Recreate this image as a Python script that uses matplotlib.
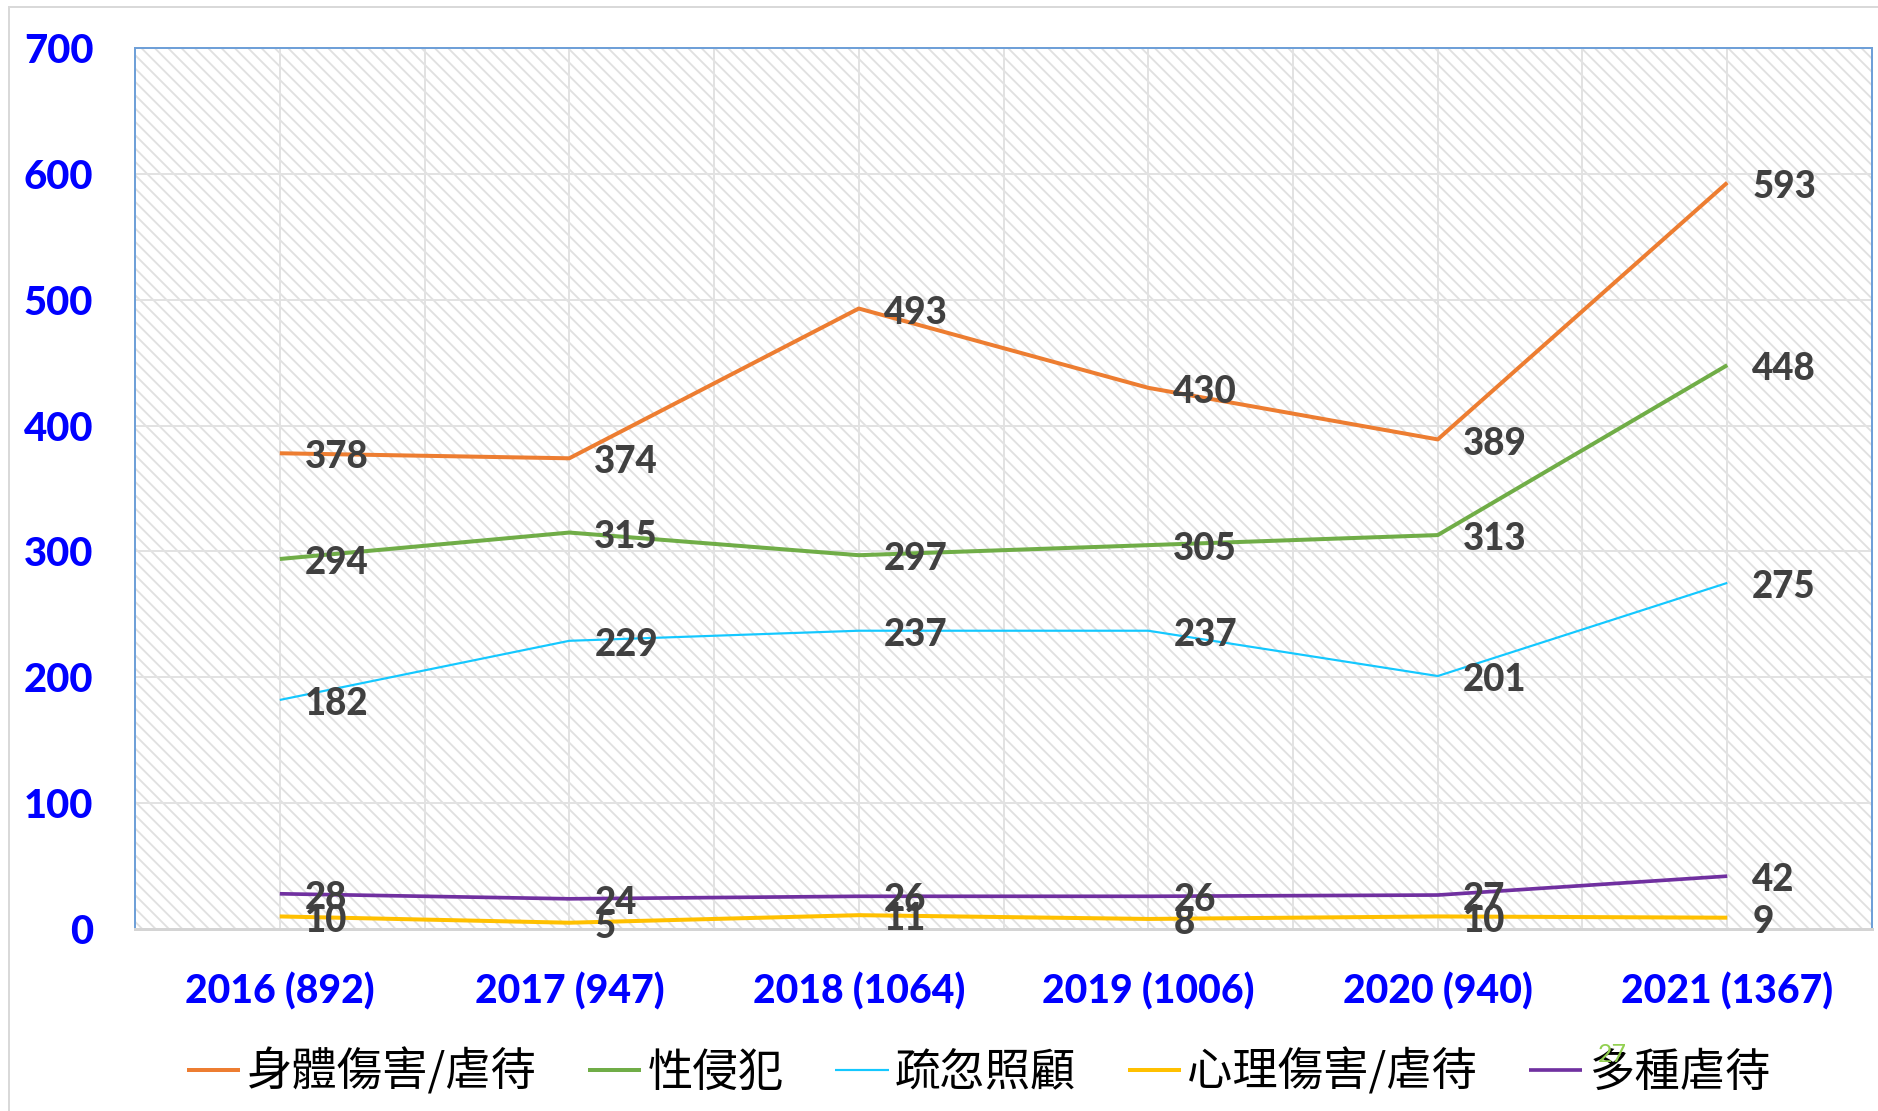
import matplotlib
matplotlib.use("Agg")
import matplotlib.pyplot as plt
from matplotlib.patches import Rectangle
import numpy as np

# categories along the x axis (year and total cases)
years = ["2016 (892)", "2017 (947)", "2018 (1064)", "2019 (1006)", "2020 (940)", "2021 (1367)"]

# one list per type of abuse
series_names = ["身體傷害/虐待", "性侵犯", "疏忽照顧", "心理傷害/虐待", "多種虐待"]
physical = [378, 374, 493, 430, 389, 593]
sexual = [294, 315, 297, 305, 313, 448]
neglect = [182, 229, 237, 237, 201, 275]
psychological = [10, 5, 11, 8, 10, 9]
multiple = [28, 24, 26, 26, 27, 42]

colors = ["#ED7D31", "#70AD47", "#14C8FF", "#FFC000", "#7030A0"]
widths = [2.4, 2.4, 1.3, 2.4, 2.2]

cjk = ["Noto Sans CJK TC", "DejaVu Sans"]

DPI = 120
fig = plt.figure(figsize=(1878 / DPI, 1111 / DPI), dpi=DPI)
ax = fig.add_axes([0.0719, 0.1638, 0.9968 - 0.0719, 0.9568 - 0.1638])

# light gray frame round the whole chart
fig.patches.append(Rectangle((9 / 1878, -0.02), 1.05, 1 - 7 / 1111 + 0.02,
                             transform=fig.transFigure, fill=False,
                             edgecolor="#d9d9d9", linewidth=1.2, zorder=0))

# diagonal stripe fill of the plot area
plt.rcParams["hatch.linewidth"] = 1.1
ax.add_patch(Rectangle((0, 0), 1, 1, transform=ax.transAxes, facecolor="white",
                       edgecolor="#e0e0e0", hatch="\\\\\\", linewidth=0, zorder=0))

x = np.arange(len(years))
all_series = [physical, sexual, neglect, psychological, multiple]
for name, vals, c, lw in zip(series_names, all_series, colors, widths):
    ax.plot(x, vals, color=c, linewidth=lw, label=name, zorder=3,
            solid_capstyle="butt")
    for xi, v in zip(x, vals):
        ax.annotate(str(v), (xi, v), xytext=(15, -2.5), textcoords="offset points",
                    ha="left", va="center", fontsize=22, fontweight=900,
                    family="Lato", color="#404040", zorder=4)

ax.set_xlim(-0.5, len(years) - 0.5)
ax.set_ylim(0, 700)
ax.set_yticks(np.arange(0, 701, 100))
ax.set_xticks(x)
ax.set_xticks(x[:-1] + 0.5, minor=True)
ax.set_xticklabels(years)

for lab in ax.get_xticklabels() + ax.get_yticklabels():
    lab.set_family("Lato")
    lab.set_fontweight(900)
    lab.set_color("#0000FF")
for lab in ax.get_xticklabels():
    lab.set_fontsize(23.5)
for lab in ax.get_yticklabels():
    lab.set_fontsize(24)

ax.tick_params(axis="both", which="both", length=0)
ax.tick_params(axis="y", pad=25)
ax.tick_params(axis="x", pad=26)

ax.grid(True, which="both", color="#e2e2e2", linewidth=1.2, zorder=1)
ax.set_axisbelow(True)

for side in ["left", "top", "right"]:
    ax.spines[side].set_color("#6FA0D8")
    ax.spines[side].set_linewidth(1.2)
ax.spines["bottom"].set_color("#d4d4d4")
ax.spines["bottom"].set_linewidth(1.8)

leg = fig.legend(loc="center", bbox_to_anchor=(0.521, 1 - 1072 / 1111), ncol=5,
                 frameon=False, handlelength=1.18, handletextpad=0.14,
                 columnspacing=1.13, borderpad=0,
                 prop={"family": cjk, "size": 27.2})
leg.set_zorder(5)

# small stray label sitting on the last legend entry
fig.text(1612 / 1878, 1 - 1054 / 1111, "27", color="#92D050", fontsize=15,
         family="Lato", ha="center", va="center", zorder=10)

fig.savefig("out.png", dpi=DPI)
plt.close()
